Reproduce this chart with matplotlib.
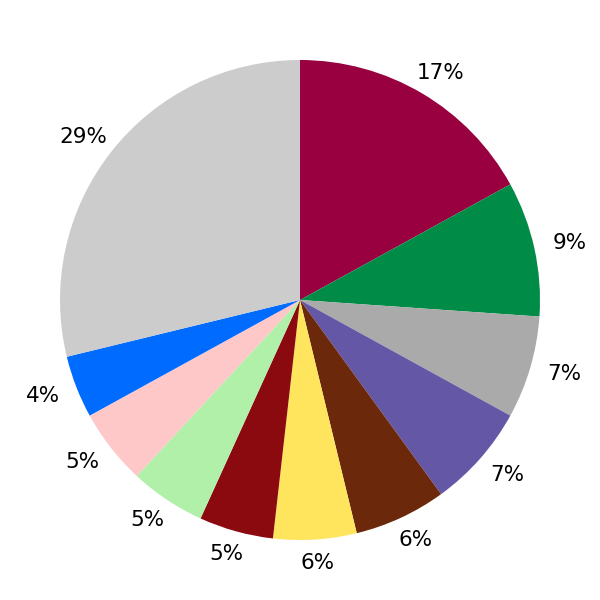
import matplotlib
matplotlib.use('Agg')
import numpy as np
import matplotlib.pyplot as plt

# slice shares, clockwise from 12 o'clock
values = [17.0, 9.1, 6.9, 7.0, 6.2, 5.6, 5.0, 5.1, 5.1, 4.2, 28.8]
colors = ['#990040', '#008c47', '#aaaaaa', '#6457a6', '#6b280b', '#ffe45e',
          '#8b0a10', '#b0f0a8', '#ffc8c8', '#006bff', '#cccccc']

fig = plt.figure(figsize=(6, 6), dpi=100)
ax = fig.add_axes([0, 0, 1, 1])

wedges, texts, autotexts = ax.pie(
    values, colors=colors, startangle=90, counterclock=False,
    autopct='%.0f%%', pctdistance=1.12,
    textprops={'fontsize': 15.5, 'color': 'black'})

# labels sit a bit further out at the sides than at top/bottom
for w, t in zip(wedges, autotexts):
    ang = np.deg2rad((w.theta1 + w.theta2) / 2)
    t.set_position((1.15 * np.cos(ang), 1.10 * np.sin(ang)))

ax.set_xlim(-1.25, 1.25)
ax.set_ylim(-1.25, 1.25)
ax.set_aspect('equal')
ax.axis('off')

fig.savefig('out.png', dpi=100)
